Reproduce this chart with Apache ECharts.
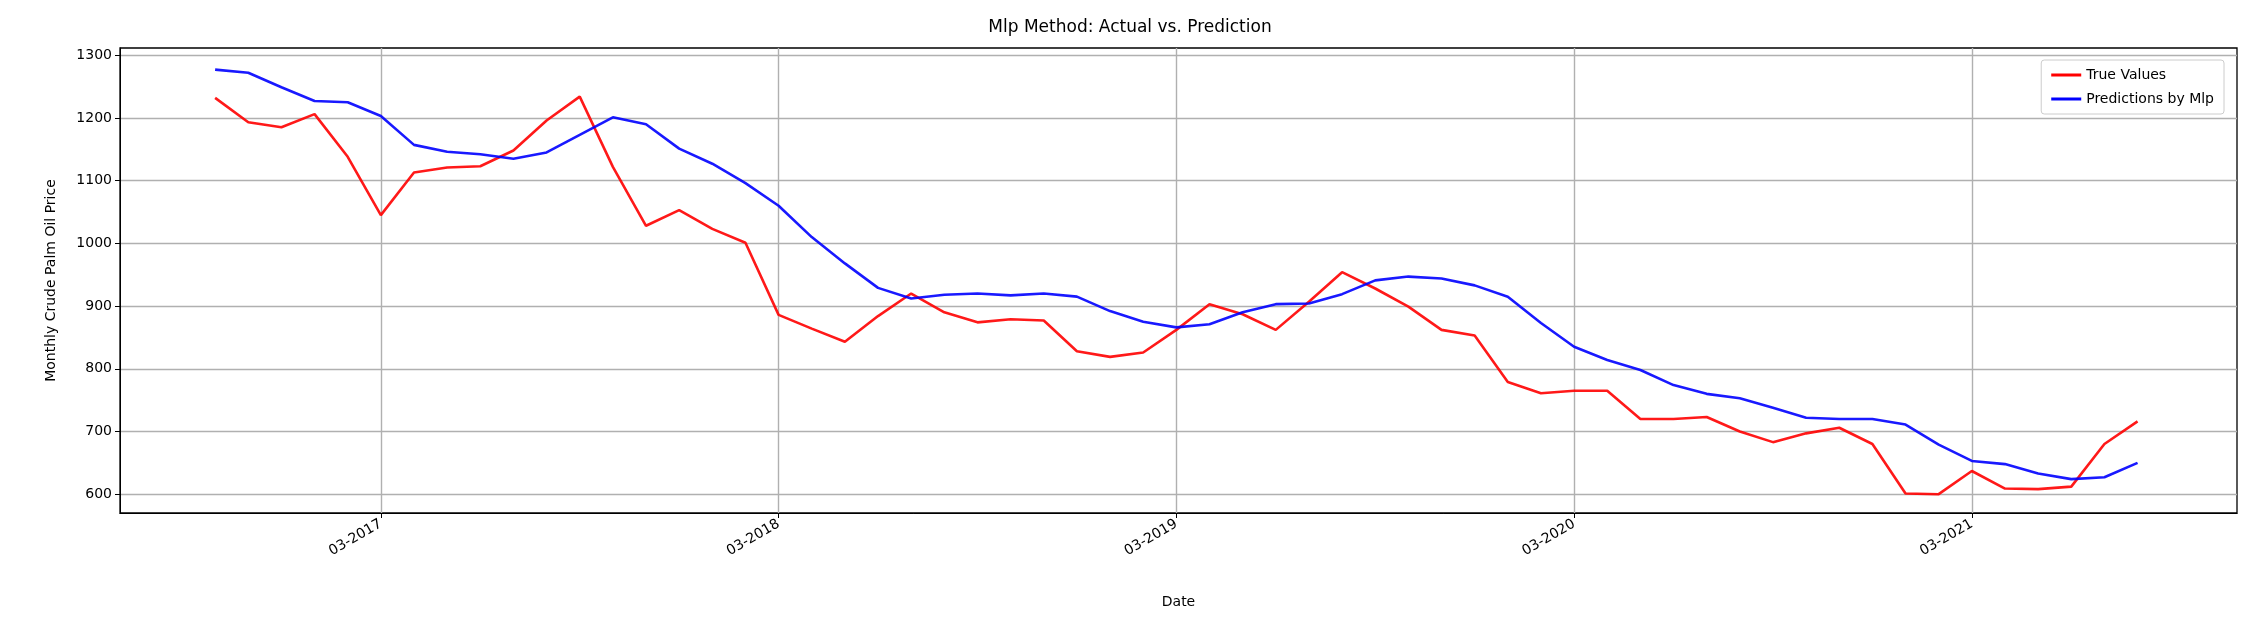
<!DOCTYPE html>
<html><head><meta charset="utf-8">
<script src="https://cdn.jsdelivr.net/npm/echarts@6/dist/echarts.min.js"></script>
<style>html,body{margin:0;padding:0;background:#fff}#c{width:2260px;height:617px}</style>
</head><body><div id="c"></div>
<script>
// x = months relative to 03-2017 (first point is 10-2016 -> -5)
const startMonth = -5;
const trueValues = [1232,1193,1185,1206,1138,1045,1113,1121,1123,1148,1196,1234,1122,1028,1053,1023,1001,886,864,843,884,920,890,874,879,877,828,819,826,862,903,887,862,907,954,928,899,862,853,779,761,765,765,720,720,723,700,683,697,706,680,601,600,637,609,608,612,680,716];
const predValues = [1277,1272,1249,1227,1225,1203,1157,1146,1142,1135,1145,1173,1201,1190,1151,1127,1096,1060,1010,968,929,912,918,920,917,920,915,892,875,866,871,890,903,904,919,941,947,944,933,915,873,835,814,798,774,760,753,738,722,720,720,711,679,653,648,633,624,627,650];
const xTickValues = [0,12,24,36,48];
const xTickLabels = ['03-2017','03-2018','03-2019','03-2020','03-2021'];
const yTickValues = [600,700,800,900,1000,1100,1200,1300];

const toPts = arr => arr.map((v,i)=>[startMonth+i, v]);
const font = 'DejaVu Sans';
const chart = echarts.init(document.getElementById('c'));
chart.setOption({
  animation:false,
  textStyle:{fontFamily:font},
  title:{text:'Mlp Method: Actual vs. Prediction',left:'center',top:14,textStyle:{fontFamily:font,fontSize:17,fontWeight:'normal',color:'#000'}},
  grid:{left:120,right:23,top:48,bottom:104,show:true,borderColor:'#000',borderWidth:1.3,backgroundColor:'transparent'},
  legend:{top:60,right:36,orient:'vertical',itemWidth:30,itemHeight:3,itemGap:10,padding:[8,10],
    borderColor:'#ccc',borderWidth:1,borderRadius:3,
    textStyle:{fontFamily:font,fontSize:14,color:'#000'},
    data:[{name:'True Values',icon:'rect'},{name:'Predictions by Mlp',icon:'rect'}]},
  xAxis:{type:'value',min:-7.87,max:56,name:'Date',nameLocation:'middle',nameGap:82,
    nameTextStyle:{fontFamily:font,fontSize:14,color:'#000'},
    axisLine:{onZero:false,lineStyle:{color:'#000'}},
    axisTick:{show:true,customValues:xTickValues,length:5,lineStyle:{color:'#000'}},
    axisLabel:{customValues:xTickValues,rotate:30,margin:10,fontSize:14,color:'#000',fontFamily:font,
      formatter:v=>xTickLabels[xTickValues.indexOf(v)]||''},
    splitLine:{show:true,lineStyle:{color:'#b0b0b0',width:1.4}}},
  yAxis:{type:'value',min:570,max:1311.5,name:'Monthly Crude Palm Oil Price',nameLocation:'middle',nameGap:62,
    nameTextStyle:{fontFamily:font,fontSize:14,color:'#000'},
    axisLine:{show:true,onZero:false,lineStyle:{color:'#000'}},
    axisTick:{show:true,customValues:yTickValues,length:5,lineStyle:{color:'#000'}},
    axisLabel:{customValues:yTickValues,fontSize:14,color:'#000',fontFamily:font,formatter:v=>String(v)},
    splitLine:{show:true,lineStyle:{color:'#b0b0b0',width:1.4}}},
  series:[
    {name:'True Values',type:'line',data:toPts(trueValues),symbol:'none',itemStyle:{color:'#ff0000'},lineStyle:{color:'#ff0000',width:2.6,opacity:0.9}},
    {name:'Predictions by Mlp',type:'line',data:toPts(predValues),symbol:'none',itemStyle:{color:'#0000ff'},lineStyle:{color:'#0000ff',width:2.6,opacity:0.9}}
  ]
});
</script></body></html>
